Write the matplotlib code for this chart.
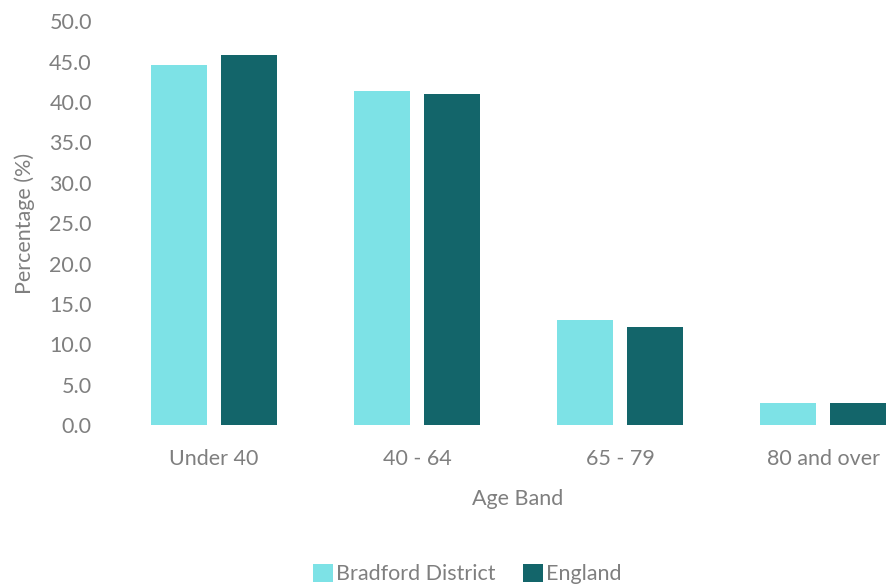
import matplotlib

matplotlib.use("Agg")
import matplotlib.pyplot as plt
import numpy as np

age_bands = ["Under 40", "40 - 64", "65 - 79", "80 and over"]
bradford = [44.6, 41.3, 13.0, 2.8]
england = [45.8, 41.0, 12.1, 2.8]
series_names = ["Bradford District", "England"]

LIGHT = "#7de2e6"
DARK = "#13656a"
TEXT = "#7f7f7f"

plt.rcParams["font.family"] = ["Lato", "DejaVu Sans"]

fig = plt.figure(figsize=(8.87, 5.88), dpi=100)
ax = fig.add_axes([0.127, 0.277, 0.873, 0.687])

x = np.arange(len(age_bands))
width = 0.276
offset = 0.172
ax.bar(x - offset, bradford, width, color=LIGHT, label=series_names[0])
ax.bar(x + offset, england, width, color=DARK, label=series_names[1])

# the source chart is cut off on the right, so the last group sits at the edge
ax.set_xlim(-0.5, 3.315)
ax.set_ylim(0, 50)
ax.set_yticks(np.arange(0, 50.1, 5))
ax.set_yticklabels([f"{v:.1f}" for v in np.arange(0, 50.1, 5)])
ax.set_xticks(x)
ax.set_xticklabels(age_bands)
ax.tick_params(colors=TEXT, labelsize=15.5, length=0)
ax.tick_params(axis="y", pad=15)
ax.tick_params(axis="x", pad=17)
for spine in ax.spines.values():
    spine.set_visible(False)

ax.set_xlabel("Age Band", color=TEXT, fontsize=15.5)
ax.xaxis.set_label_coords(0.5236, -0.158)
ax.set_ylabel("Percentage (%)", color=TEXT, fontsize=15.5, labelpad=10)

leg = fig.legend(
    loc="center",
    bbox_to_anchor=(0.527, 0.024),
    ncol=2,
    frameon=False,
    fontsize=15.5,
    handlelength=0.9,
    handleheight=0.9,
    handletextpad=0.15,
    columnspacing=1.3,
)
for t in leg.get_texts():
    t.set_color(TEXT)

fig.savefig("out.png", dpi=100)
